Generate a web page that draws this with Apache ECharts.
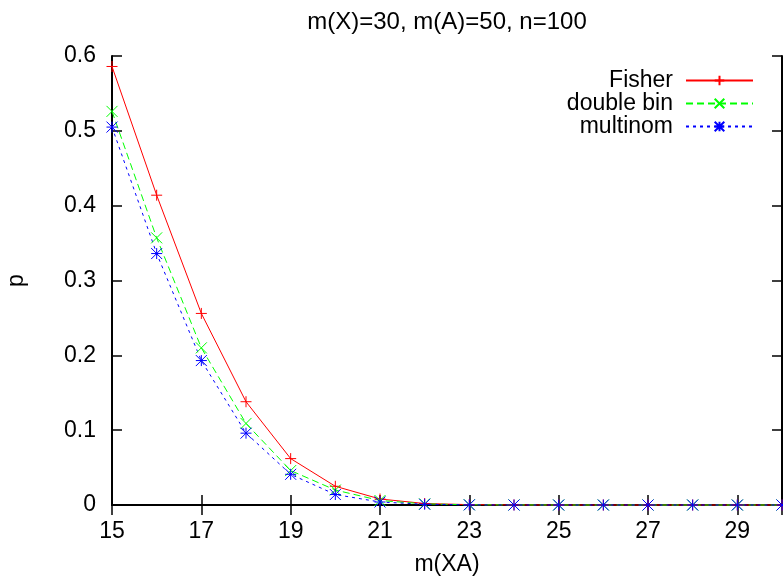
<!DOCTYPE html>
<html>
<head>
<meta charset="utf-8">
<script src="https://cdn.jsdelivr.net/npm/echarts@6/dist/echarts.min.js"></script>
<style>
html,body{margin:0;padding:0;background:#fff;}
#chart{width:783px;height:576px;}
</style>
</head>
<body>
<div id="chart"></div>
<script>
var xValues = [15, 16, 17, 18, 19, 20, 21, 22, 23, 24, 25, 26, 27, 28, 29, 30];
var fisher = [0.586, 0.414, 0.256, 0.138, 0.062, 0.025, 0.008, 0.002, 0.0005, 0.0001, 0, 0, 0, 0, 0, 0];
var doubleBin = [0.526, 0.357, 0.210, 0.109, 0.046, 0.020, 0.006, 0.0015, 0.0003, 0.0001, 0, 0, 0, 0, 0, 0];
var multinom = [0.505, 0.336, 0.193, 0.096, 0.041, 0.014, 0.004, 0.001, 0.0002, 0, 0, 0, 0, 0, 0, 0];
var seriesNames = ['Fisher', 'double bin', 'multinom'];
var titleText = 'm(X)=30, m(A)=50, n=100';
var xName = 'm(XA)';
var yName = 'p';

function pairs(ys) { return xValues.map(function (x, i) { return [x, ys[i]]; }); }

var FONT = 'Liberation Sans, Arial, sans-serif';
var FS = 23;
var PLUS = 'path://M5,0L5,10M0,5L10,5';
var CROSS = 'path://M0,0L10,10M0,10L10,0';
var STAR = 'path://M5,0L5,10M0,5L10,5M0,0L10,10M0,10L10,0';

function mkSeries(name, data, color, type, sym) {
  return {
    name: name, type: 'line', data: pairs(data),
    symbol: sym, symbolSize: 11, showAllSymbol: true, clip: false,
    lineStyle: { color: color, width: 1, type: type },
    itemStyle: { color: color, borderColor: color, borderWidth: 1 },
    emphasis: { disabled: true },
    animation: false
  };
}

var axisLineStyle = { lineStyle: { color: '#000', width: 2 } };
var tickStyle = { inside: true, length: 10, lineStyle: { color: '#000', width: 1.5 } };

var chart = echarts.init(document.getElementById('chart'));
chart.setOption({
  animation: false,
  backgroundColor: '#fff',
  title: {
    text: titleText, left: 447, top: 10, textAlign: 'center', padding: 0,
    textStyle: { fontFamily: FONT, fontSize: 24, fontWeight: 'normal', color: '#000' }
  },
  legend: {
    orient: 'vertical', align: 'right', right: 29, top: 69, itemGap: 0,
    itemWidth: 67, itemHeight: 12, padding: 0,
    data: seriesNames,
    selectedMode: false,
    textStyle: { fontFamily: FONT, fontSize: FS, color: '#000', padding: [0, 8, 0, 0] }
  },
  grid: { left: 112, right: 1, top: 56, bottom: 71, containLabel: false, outerBoundsMode: 'none' },
  xAxis: [{
    type: 'value', position: 'bottom', min: 15, max: 30, interval: 2,
    name: xName, nameLocation: 'middle', nameGap: 48,
    nameTextStyle: { fontFamily: FONT, fontSize: FS, color: '#000' },
    axisLine: axisLineStyle, axisTick: tickStyle, splitLine: { show: false },
    axisLabel: { fontFamily: FONT, fontSize: FS, color: '#000', margin: 15,
      formatter: function (v) { return v === 30 ? '' : String(v); } }
  }, {
    type: 'value', position: 'top', min: 15, max: 30, interval: 2,
    axisLine: axisLineStyle, axisTick: tickStyle, splitLine: { show: false },
    axisLabel: { show: false }
  }],
  yAxis: [{
    type: 'value', position: 'left', min: 0, max: 0.6, interval: 0.1,
    name: yName, nameLocation: 'middle', nameGap: 84, nameRotate: 90,
    nameTextStyle: { fontFamily: FONT, fontSize: FS, color: '#000' },
    axisLine: axisLineStyle, axisTick: tickStyle, splitLine: { show: false },
    axisLabel: { fontFamily: FONT, fontSize: FS, color: '#000', margin: 16,
      formatter: function (v) { return v === 0 ? '0' : v.toFixed(1); } }
  }, {
    type: 'value', position: 'right', min: 0, max: 0.6, interval: 0.1,
    axisLine: axisLineStyle, axisTick: tickStyle, splitLine: { show: false },
    axisLabel: { show: false }
  }],
  series: [
    mkSeries(seriesNames[0], fisher, '#ff0000', 'solid', PLUS),
    mkSeries(seriesNames[1], doubleBin, '#00ff00', [7, 4], CROSS),
    mkSeries(seriesNames[2], multinom, '#0000ff', [3, 4], STAR)
  ]
});
</script>
</body>
</html>
